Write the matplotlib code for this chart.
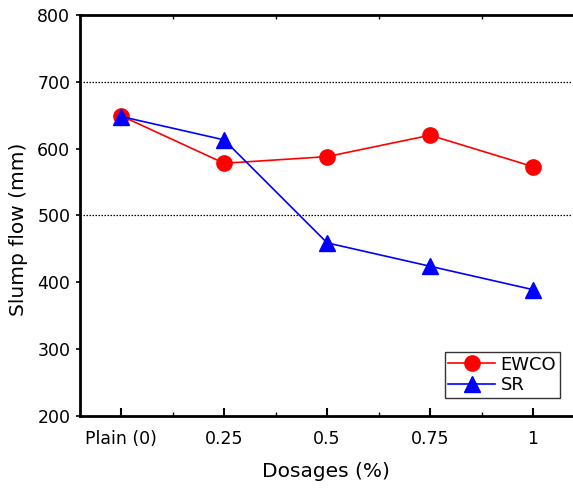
import matplotlib
matplotlib.use("Agg")
import matplotlib.pyplot as plt
from matplotlib.ticker import MultipleLocator

plt.rcParams["font.family"] = ["DejaVu Sans"]

dosage_labels = ["Plain (0)", "0.25", "0.5", "0.75", "1"]
ewco = [649, 578, 588, 620, 573]
sr = [648, 613, 459, 424, 389]

fig = plt.figure(figsize=(5.73, 4.91), dpi=100)
ax = fig.add_axes([0.1396, 0.1527, 0.859, 0.817])

x = list(range(len(dosage_labels)))
ax.plot(x, ewco, color="red", marker="o", markersize=11, linewidth=1.2, label="EWCO")
ax.plot(x, sr, color="blue", marker="^", markersize=11, linewidth=1.2, label="SR")

# dotted reference lines at 500 and 700 mm
for yv in (500, 700):
    ax.axhline(yv, color="black", linestyle=(0, (1.2, 1.2)), linewidth=0.9, zorder=0)

ax.set_xticks(x)
ax.set_xticklabels(dosage_labels)
ax.set_xticks([i + 0.5 for i in range(-1, len(x))], minor=True)
ax.yaxis.set_major_locator(MultipleLocator(100))
ax.set_xlim(-0.4, 4.38)
ax.set_ylim(200, 800)

ax.tick_params(axis="x", which="major", direction="in", length=6, width=1.5,
               labelsize=12.5, pad=10, top=False)
ax.tick_params(axis="x", which="minor", direction="in", length=3, width=1.0,
               top=True)
ax.tick_params(axis="y", which="major", direction="out", length=3, width=1.2,
               labelsize=12.5, pad=4)

for side in ("left", "bottom", "top"):
    ax.spines[side].set_linewidth(2.0)
ax.spines["right"].set_visible(False)

ax.set_xlabel("Dosages (%)", fontsize=14.5, labelpad=10)
ax.set_ylabel("Slump flow (mm)", fontsize=14.5)
ax.yaxis.set_label_coords(-0.105, 0.465)

leg = ax.legend(loc="lower right", bbox_to_anchor=(0.975, 0.045), fontsize=13,
                frameon=True, fancybox=False, edgecolor="black",
                handlelength=2.6, handletextpad=0.3, borderpad=0.2,
                labelspacing=0.15, borderaxespad=0)
leg.get_frame().set_linewidth(1.0)

fig.savefig("out.png", dpi=100)
